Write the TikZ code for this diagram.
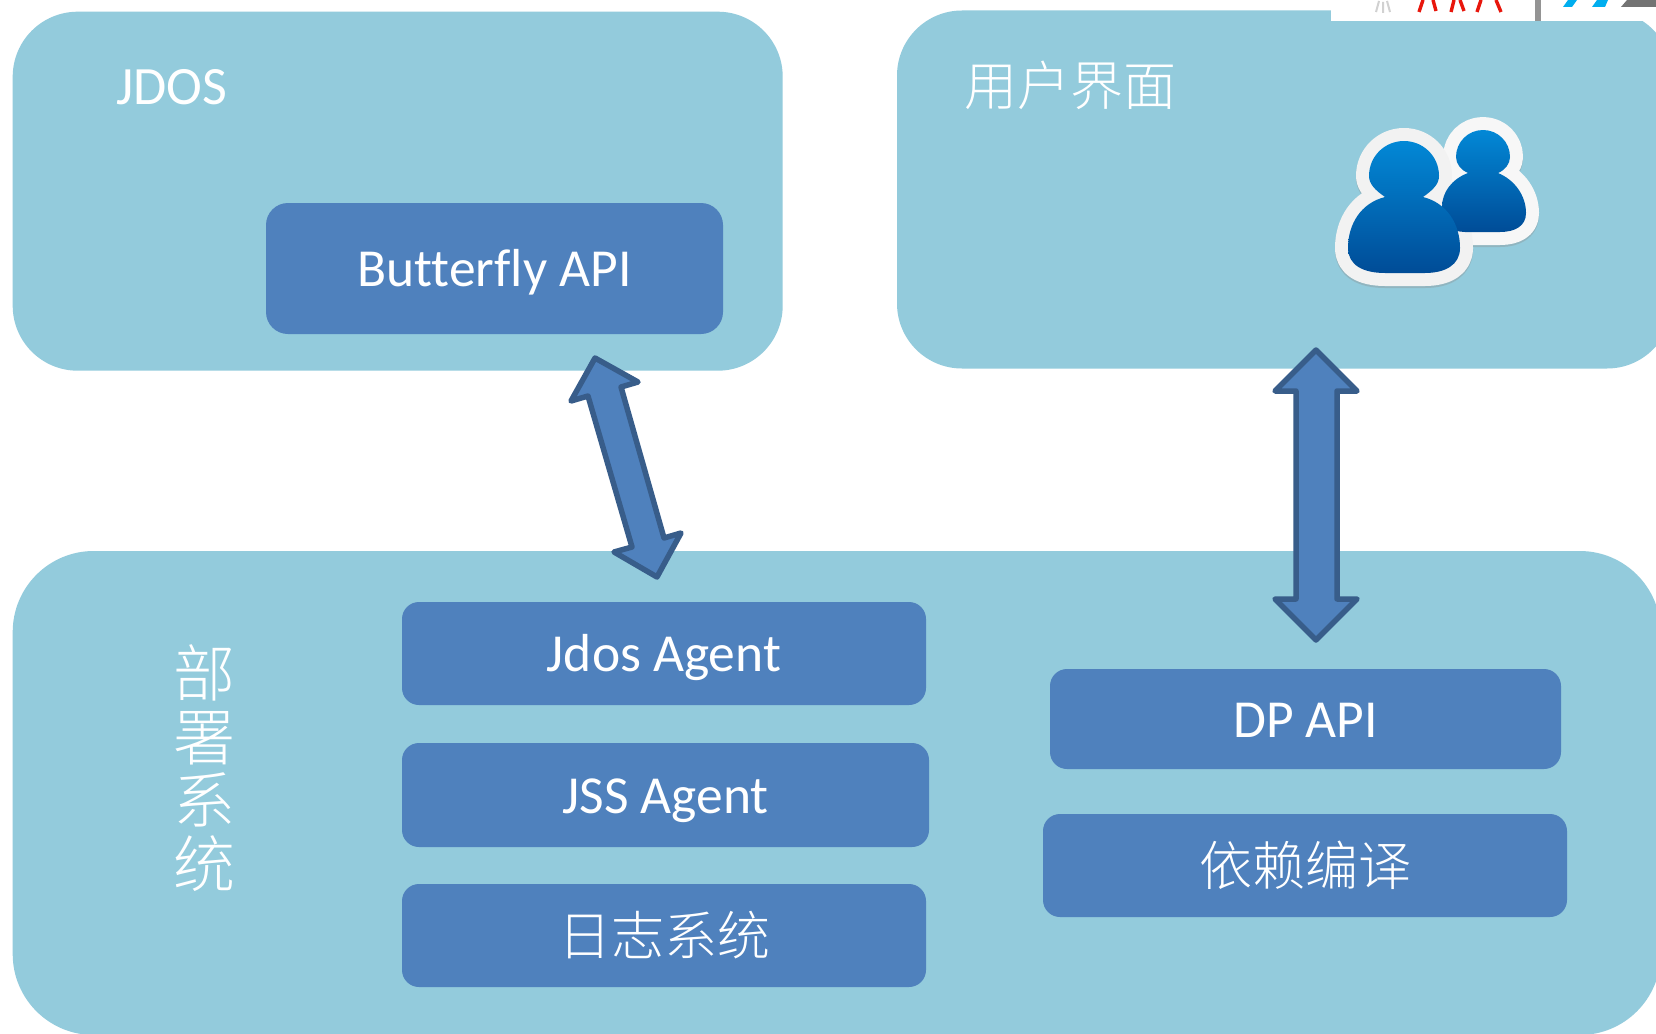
\documentclass[tikz,border=0pt]{standalone}
\usepackage{fontspec}
\setmainfont{Carlito}[Ligatures=CommonOff]
\newfontfamily\cjk{Noto Sans CJK SC Light}
\definecolor{panelc}{HTML}{93CBDC}
\definecolor{boxc}{HTML}{4F81BD}
\definecolor{edgec}{HTML}{385D8A}
\definecolor{icontop}{HTML}{0288D6}
\definecolor{iconbot}{HTML}{004C97}
\definecolor{logoblue}{HTML}{00AEEF}
\definecolor{logored}{HTML}{E8160C}
\tikzset{
  panel/.style={fill=panelc,draw=none,rounded corners=65pt,inner sep=0pt,text=white},
  innerbox/.style={fill=boxc,draw=none,rounded corners=17pt,inner sep=0pt,text=white,text height=36pt,text depth=0pt,font=\fontsize{53.5}{56}\selectfont},
  cjkbox/.style={innerbox,text height=40pt,font=\cjk\fontsize{53}{56}\selectfont},
  title/.style={text=white,inner sep=0pt,text height=35pt,text depth=0pt,font=\fontsize{54}{56}\selectfont},
  cjktitle/.style={text=white,inner sep=0pt,align=center,font=\cjk\fontsize{#1}{63.5}\selectfont},
  blockarrow/.style={fill=boxc,draw=edgec,line width=5.5pt,line join=round},
  iconedge/.style={draw=#1,line width=26pt,line join=round,fill=#1}
}
\def\bigperson{(1385,197) .. controls (1375,190) and (1369,184) .. (1369,176) .. controls (1369,156) and (1385,141) .. (1404,141) .. controls (1423,141) and (1439,156) .. (1439,176) .. controls (1439,184) and (1433,190) .. (1423,197) .. controls (1447,203) and (1460,224) .. (1460,248) .. controls (1460,265) and (1445,273) .. (1425,273) -- (1385,273) .. controls (1363,273) and (1348,265) .. (1348,248) .. controls (1348,224) and (1361,203) .. (1385,197) -- cycle}
\def\smallperson{(1468,173) .. controls (1461,170) and (1456,164) .. (1456,157) .. controls (1456,142) and (1468,130) .. (1483,130) .. controls (1498,130) and (1510,142) .. (1510,157) .. controls (1510,164) and (1505,170) .. (1498,173) .. controls (1515,180) and (1526,196) .. (1526,213) .. controls (1526,226) and (1515,232) .. (1500,232) -- (1465,232) .. controls (1450,232) and (1442,222) .. (1442,207) .. controls (1442,192) and (1452,179) .. (1468,173) -- cycle}
\begin{document}
\begin{tikzpicture}[x=1pt,y=-1pt]
\useasboundingbox (0,0) rectangle (1656,1033);
\clip (0,0) rectangle (1656,1033);
\fill[white] (0,0) rectangle (1656,1033);
% panels
\node[panel,minimum width=770pt,minimum height=359pt] (jdos) at (397.7,191.2) {};
\node[panel,minimum width=775pt,minimum height=358pt] (ui) at (1284.5,189.5) {};
\node[panel,rounded corners=81pt,minimum width=1648pt,minimum height=484pt] (deploy) at (836.7,793) {};
% logo strip from the pasted picture
\fill[white] (1331,0) rectangle (1656,21);
\draw[black!18,line width=2pt] (1383,2)--(1383,13) (1379,1)--(1376,12) (1387,1)--(1390,12);
\draw[logored,line width=3.4pt] (1423,0)--(1419,12) (1433,0)--(1436,11) (1454,0)--(1451,12) (1460,0)--(1464,11) (1481,0)--(1477,12) (1496,0)--(1501,12);
\fill[black!42] (1535,0) rectangle (1541,21);
\fill[logoblue] (1568,0)--(1577,0)--(1572,7)--(1563,7)--cycle (1597,0)--(1608,0)--(1605,7)--(1592,7)--cycle;
\fill[black!55] (1627,0)--(1656,0)--(1656,7)--(1621,7)--cycle;
% inner boxes
\node[innerbox,rounded corners=22pt,minimum width=457pt,minimum height=131pt] (butterfly) at (494.5,268.5) {Butterfly API};
\node[innerbox,minimum width=524pt,minimum height=103pt] (jdosagent) at (664,653.5) {Jdos Agent};
\node[innerbox,minimum width=527pt,minimum height=104pt] (jssagent) at (665.5,795) {JSS Agent};
\node[cjkbox,minimum width=524pt,minimum height=103pt] (logs) at (664,935.5) {日志系统};
\node[innerbox,minimum width=511pt,minimum height=100pt] (dpapi) at (1305.5,719) {DP API};
\node[cjkbox,minimum width=524pt,minimum height=103pt] (depbuild) at (1305,865.5) {依赖编译};
% titles
\node[title] (jdoslabel) at (172,87) {JDOS};
\node[cjktitle=53] (uilabel) at (1070,85) {用户界面};
\node[cjktitle=62] (deploylabel) at (204,768) {部\\署\\系\\统};
% block arrows
\draw[blockarrow] (595,358)--(638,382)--(621,387)--(664,538)--(681,533)--(657,577)--(614,552)--(632,547)--(588,396)--(571,401)--cycle;
\draw[blockarrow] (1316,350)--(1357,391)--(1337,391)--(1337,599)--(1357,599)--(1316,640)--(1275,599)--(1296,599)--(1296,391)--(1275,391)--cycle;
% user icon
\begin{scope}[shift={(0pt,-2pt)},opacity=.35]
\draw[iconedge=black!45] \smallperson;
\draw[iconedge=black!45] \bigperson;
\end{scope}
\draw[iconedge=black!3] \smallperson;
\draw[iconedge=black!5] \bigperson;
\shade[top color=icontop,bottom color=iconbot] \smallperson;
\shade[top color=icontop,bottom color=iconbot] \bigperson;
\end{tikzpicture}
\end{document}
